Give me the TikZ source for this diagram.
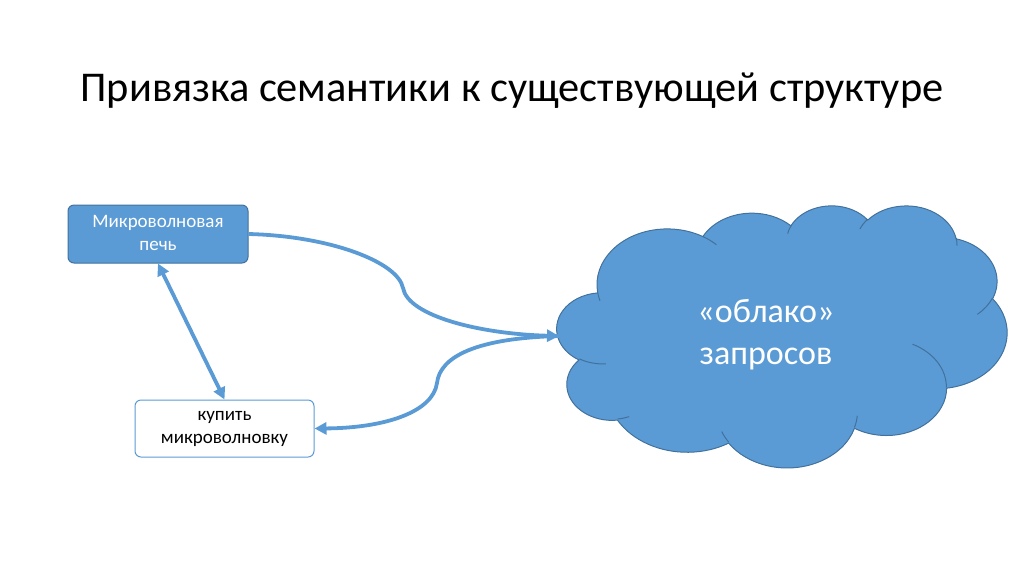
\documentclass[tikz,border=0pt]{standalone}
\usepackage{fontspec}
\setmainfont{Carlito}
\usetikzlibrary{arrows.meta}
\definecolor{pptblue}{HTML}{5B9BD5}
\definecolor{pptedge}{HTML}{41719C}

\begin{document}
\begin{tikzpicture}[x=1pt, y=-1pt,
  declare function={vis(\a,\k)=\a+atan((\k-1)*sin(\a)*cos(\a)/(cos(\a)^2+\k*sin(\a)^2));},
  box/.style={rounded corners=6pt, minimum width=180pt, minimum height=58pt, align=center, line width=1pt, font=\fontsize{19}{23}\selectfont},
  link/.style={draw=pptblue, line width=3.8pt, -{Triangle[length=12pt,width=12pt]}}]
    \useasboundingbox (0,0) rectangle (1024,574);
    \node[anchor=base west, font=\fontsize{42.4}{50}\selectfont] (title) at (77,101) {Привязка семантики к существующей структуре};
    \node[box, draw=pptedge, fill=pptblue, text=white, text depth=2pt] (oven) at (158,234) {Микроволновая\\печь};
    \node[box, draw=pptblue, fill=white, minimum width=179pt, minimum height=57pt, text depth=2pt] (buy) at (224.5,428.5) {купить\\микроволновку};
    % cloud, drawn like the office preset shape
    \begin{scope}[shift={(557,205)}, x=1.04167pt, y=-0.60648pt]
      \filldraw[fill=pptblue, draw=pptedge, line width=1pt] (39.00,143.70)
        foreach \w/\h/\s/\d in {67.53/91.90/-190.4875/123.7805, 53.33/72.67/-144.1024/89.9452,
          43.65/59.45/-145.8079/99.7230, 48.57/65.95/-130.9861/117.2417, 53.33/72.73/-78.7089/109.0269,
          67.75/92.20/-46.2673/130.2690, 57.85/78.67/0.6250/114.0333, 67.52/92.15/22.4516/115.1726,
          77.20/105.43/66.2426/75.7110, 43.60/59.18/-274.9421/146.7356, 43.45/59.45/-246.8285/152.5189}
        { arc[start angle={vis(\s,\w/\h)}, end angle={vis(\s+\d,\w/\h)}, x radius=\w, y radius=\h] } -- cycle;
      \draw[pptedge, line width=1pt]
        foreach \x/\y/\w/\h/\s/\d in {46.93/261.77/43.45/59.45/86.742/26.4295, 69.28/348.99/43.60/59.18/73.6105/11.4475,
          164.78/390.90/67.52/92.15/137.6242/14.0811, 288.27/347.51/67.52/92.15/6.4533/15.9984,
          341.29/229.54/57.85/78.67/-70.2924/70.9174, 417.98/153.54/53.33/72.73/30.3180/27.7515,
          383.24/54.26/48.57/65.95/-13.7443/14.8589, 290.78/39.52/48.57/65.95/-149.1815/18.1954,
          221.41/47.20/43.65/59.45/-163.4943/17.6864, 140.00/51.92/67.53/91.90/-66.7070/12.3194,
          41.27/157.89/67.53/91.90/157.6544/11.8582}
        { (\x,\y) arc[start angle={vis(\s,\w/\h)}, end angle={vis(\s+\d,\w/\h)}, x radius=\w, y radius=\h] };
    \end{scope}
    \node[align=center, text=white, font=\fontsize{34}{42}\selectfont] (query) at (766,335) {«облако»\\запросов};
    \coordinate (cloudin) at (559,336);
    \draw[link] (oven.east) .. controls (330,236) and (398,262) .. (403,288) .. controls (408,316) and (480,334) .. (cloudin);
    \draw[link] (cloudin) .. controls (478,338) and (440,356) .. (437,383) .. controls (433,412) and (385,428) .. (buy.east);
    \draw[link, {Triangle[length=12pt,width=12pt]}-{Triangle[length=12pt,width=12pt]}] (oven.south) -- (buy.north);
\end{tikzpicture}
\end{document}
